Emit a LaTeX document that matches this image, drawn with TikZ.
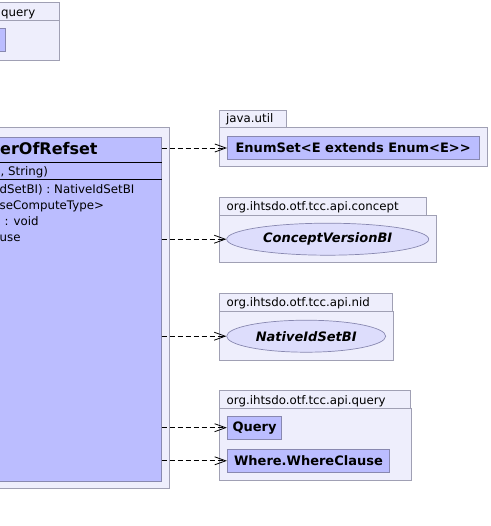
\documentclass[tikz,border=0pt]{standalone}
\usepackage{fontspec}
\setmainfont{DejaVu Sans}
\usetikzlibrary{arrows.meta,shapes.geometric}
\definecolor{pkgfill}{RGB}{238,238,252}
\definecolor{pkgline}{RGB}{160,160,180}
\definecolor{clsfill}{RGB}{187,189,255}
\definecolor{clsline}{RGB}{136,136,176}
\definecolor{ifcfill}{RGB}{221,221,252}
\tikzset{
  pkg/.style={draw=pkgline, fill=pkgfill, line width=0.9pt},
  pkgname/.style={anchor=base west, inner sep=0pt, font=\fontsize{11.8}{14}\selectfont},
  cls/.style={draw=clsline, fill=clsfill, line width=0.9pt, inner sep=0pt,
    font=\fontsize{13}{15}\selectfont\bfseries},
  ifc/.style={ellipse, draw=clsline, fill=ifcfill, line width=0.7pt, inner sep=0pt,
    font=\fontsize{13}{15}\selectfont\bfseries\itshape},
  member/.style={anchor=base west, inner sep=0pt, font=\fontsize{11.8}{14}\selectfont},
  dep/.style={line width=0.8pt, dash pattern=on 5pt off 3pt,
    -{Straight Barb[length=11pt,width=8pt]}}
}
\begin{document}
\begin{tikzpicture}[x=1pt, y=-1pt]
    \useasboundingbox (0,0) rectangle (490,526);
    \clip (0,0) rectangle (490,526);
    % query package, top left
    \draw[pkg] (-10,2.5) rectangle (59.5,20.5);
    \draw[pkg] (-10,20.5) rectangle (59.5,60.5);
    \node[pkgname] (qname) at (1,16.5) {query};
    \draw[cls] (-10,28.5) rectangle (5.5,51.5);
    % package of the main class
    \draw[pkg] (-10,127.5) rectangle (169.5,488.5);
    \node[cls, anchor=north east, minimum width=171, minimum height=343] (main) at (161.5,137.5) {};
    \draw[line width=0.8pt] (-10,162.5) -- (main.east |- 0,162.5);
    \draw[line width=0.8pt] (-10,179.5) -- (main.east |- 0,179.5);
    \node[anchor=base west, inner sep=0pt, font=\fontsize{16}{19}\selectfont\bfseries] (title) at (0,155) {erOfRefset};
    \node[member] (attr) at (0.5,175.5) {, String)};
    \node[member] (op1) at (-0.5,193.5) {dSetBI) : NativeIdSetBI};
    \node[member] (op2) at (-0.5,209.5) {seComputeType>};
    \node[member] (op3) at (4.5,225.5) {: void};
    \node[member] (op4) at (-0.5,241) {use};
    % java.util
    \draw[pkg] (219.5,110.5) rectangle (286.5,127.5);
    \draw[pkg] (219.5,127.5) rectangle (487.5,166.5);
    \node[pkgname] (utilname) at (226,123) {java.util};
    \node[cls, minimum width=251.5, minimum height=22.5] (enum) at (353.2,148) {EnumSet<E extends Enum<E>{}>};
    % concept
    \draw[pkg] (219.5,197.5) rectangle (426.5,215);
    \draw[pkg] (219.5,215) rectangle (436.5,262.5);
    \node[pkgname] (conceptname) at (226.5,210.5) {org.ihtsdo.otf.tcc.api.concept};
    \node[ifc, minimum width=202, minimum height=32] (concept) at (327.7,239.2) {ConceptVersionBI};
    % nid
    \draw[pkg] (219.5,293.5) rectangle (392.5,311);
    \draw[pkg] (219.5,311) rectangle (393.5,360);
    \node[pkgname] (nidname) at (226.5,306.5) {org.ihtsdo.otf.tcc.api.nid};
    \node[ifc, minimum width=159, minimum height=32] (nid) at (306.2,336.2) {NativeIdSetBI};
    % query
    \draw[pkg] (219.5,390.5) rectangle (410,408.5);
    \draw[pkg] (219.5,408.5) rectangle (411.5,480);
    \node[pkgname] (queryname) at (226.5,404) {org.ihtsdo.otf.tcc.api.query};
    \node[cls, minimum width=54.5, minimum height=23.3] (query) at (254.5,427.7) {Query};
    \node[cls, minimum width=162.4, minimum height=23] (where) at (308.5,460.8) {Where.WhereClause};
    % dependencies
    \draw[dep] (enum.west -| main.east) -- (enum.west);
    \draw[dep] (concept.west -| main.east) -- (concept.west);
    \draw[dep] (nid.west -| main.east) -- (nid.west);
    \draw[dep] (query.west -| main.east) -- (query.west);
    \draw[dep] (where.west -| main.east) -- (where.west);
\end{tikzpicture}
\end{document}
